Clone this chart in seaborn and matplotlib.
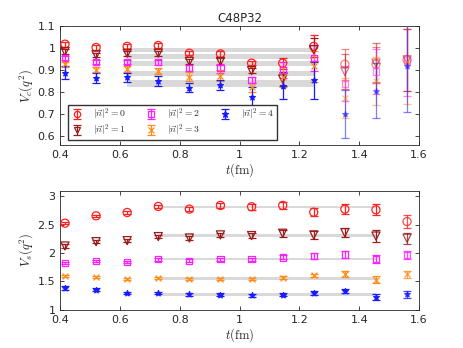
import numpy as np
import pandas as pd
import matplotlib
matplotlib.use("Agg")
import matplotlib.pyplot as plt
import seaborn as sns

# time slices (fm)
t = [0.416, 0.520, 0.624, 0.728, 0.832, 0.936, 1.040, 1.144, 1.248, 1.352, 1.456, 1.560]
labels = ["$|\\vec{n}|^2=0$", "$|\\vec{n}|^2=1$", "$|\\vec{n}|^2=2$", "$|\\vec{n}|^2=3$", "$|\\vec{n}|^2=4$"]

# V_c(q^2) for each |n|^2
vc0 = [1.018, 1.003, 1.008, 1.012, 0.977, 0.974, 0.932, 0.932, 1.008, 0.927, 0.927, 0.947]
vc1 = [0.985, 0.970, 0.977, 0.977, 0.940, 0.940, 0.898, 0.860, 0.993, 0.894, 0.932, 0.947]
vc2 = [0.955, 0.936, 0.938, 0.936, 0.910, 0.909, 0.856, 0.900, 0.955, 0.838, 0.894, 0.944]
vc3 = [0.927, 0.902, 0.906, 0.897, 0.870, 0.874, 0.823, 0.868, 0.917, 0.773, 0.852, 0.935]
vc4 = [0.889, 0.864, 0.867, 0.852, 0.821, 0.833, 0.780, 0.829, 0.856, 0.701, 0.806, 0.920]
vc0_err = [0.012, 0.010, 0.010, 0.012, 0.010, 0.015, 0.008, 0.025, 0.050, 0.070, 0.080, 0.140]
vc1_err = [0.010, 0.010, 0.012, 0.012, 0.012, 0.015, 0.010, 0.030, 0.055, 0.080, 0.090, 0.140]
vc2_err = [0.010, 0.010, 0.010, 0.012, 0.012, 0.020, 0.012, 0.035, 0.060, 0.080, 0.100, 0.160]
vc3_err = [0.012, 0.012, 0.015, 0.015, 0.020, 0.025, 0.020, 0.045, 0.070, 0.090, 0.110, 0.190]
vc4_err = [0.030, 0.022, 0.022, 0.022, 0.020, 0.023, 0.045, 0.060, 0.085, 0.110, 0.125, 0.210]
# fit bands for V_c (low, high), fit range 0.624 - 1.248
vc_band = [(0.981, 1.000), (0.952, 0.972), (0.920, 0.940), (0.875, 0.897), (0.822, 0.855)]

# V_s(q^2) for each |n|^2
vs0 = [2.527, 2.657, 2.716, 2.822, 2.775, 2.840, 2.817, 2.840, 2.720, 2.775, 2.763, 2.556]
vs1 = [2.124, 2.200, 2.219, 2.290, 2.266, 2.320, 2.308, 2.350, 2.320, 2.360, 2.300, 2.260]
vs2 = [1.828, 1.864, 1.840, 1.888, 1.864, 1.888, 1.888, 1.923, 1.947, 1.976, 1.888, 1.964]
vs3 = [1.592, 1.580, 1.544, 1.562, 1.544, 1.544, 1.538, 1.568, 1.604, 1.627, 1.533, 1.627]
vs4 = [1.385, 1.355, 1.296, 1.296, 1.272, 1.266, 1.254, 1.266, 1.296, 1.331, 1.225, 1.272]
vs0_err = [0.020, 0.020, 0.025, 0.030, 0.035, 0.040, 0.050, 0.060, 0.070, 0.090, 0.100, 0.120]
vs1_err = [0.030, 0.030, 0.030, 0.030, 0.035, 0.040, 0.050, 0.060, 0.070, 0.080, 0.100, 0.100]
vs2_err = [0.020, 0.020, 0.020, 0.020, 0.025, 0.025, 0.030, 0.035, 0.050, 0.060, 0.070, 0.070]
vs3_err = [0.015, 0.015, 0.015, 0.015, 0.015, 0.020, 0.020, 0.025, 0.035, 0.050, 0.060, 0.060]
vs4_err = [0.030, 0.030, 0.025, 0.025, 0.025, 0.025, 0.030, 0.030, 0.035, 0.040, 0.060, 0.060]
# fit values for V_s, fit range 0.728 - 1.456
vs_fit = [2.81, 2.31, 1.89, 1.55, 1.27]

colors = ["#ff2020", "#9a1c1c", "#ff20ff", "#ff8c1a", "#1a1aff"]
markers = ["o", "v", "s", "x", "*"]
msize = [34, 34, 20, 18, 18]

sns.set_style("ticks")
plt.rcParams["font.family"] = ["DejaVu Sans"]
plt.rcParams["mathtext.fontset"] = "cm"
plt.rcParams["font.size"] = 8

fig = plt.figure(figsize=(4.63, 3.48), dpi=100)
ax1 = fig.add_axes([0.13, 0.583, 0.775, 0.342])
ax2 = fig.add_axes([0.13, 0.11, 0.775, 0.342])


def draw_panel(ax, series, errs, alpha_from, faded_alpha):
    handles = []
    for i, (y, e) in enumerate(zip(series, errs)):
        df = pd.DataFrame({"t": t, "v": y, "e": e})
        df["faded"] = df["t"] >= alpha_from
        for faded, sub in df.groupby("faded"):
            a = faded_alpha if faded else 1.0
            eb = ax.errorbar(sub["t"], sub["v"], yerr=sub["e"], fmt="none",
                             ecolor=colors[i], elinewidth=0.9, capsize=2.8,
                             capthick=0.9, alpha=a, zorder=3)
            filled = markers[i] in ("x", "*")
            sns.scatterplot(data=sub, x="t", y="v", ax=ax, marker=markers[i],
                            s=msize[i], legend=False, alpha=a, zorder=4,
                            facecolor=colors[i] if filled else "none",
                            edgecolor=colors[i], color=colors[i], linewidth=0.9)
            if not faded:
                handles.append(eb)
    return handles


series_c = [vc0, vc1, vc2, vc3, vc4]
errs_c = [vc0_err, vc1_err, vc2_err, vc3_err, vc4_err]
for lo, hi in vc_band:
    ax1.fill_between([0.624, 1.248], [lo, lo], [hi, hi], color="#d9d9d9", lw=0, zorder=1)
h = draw_panel(ax1, series_c, errs_c, 1.3, 0.55)

series_s = [vs0, vs1, vs2, vs3, vs4]
errs_s = [vs0_err, vs1_err, vs2_err, vs3_err, vs4_err]
for v in vs_fit:
    ax2.fill_between([0.728, 1.456], [v - 0.02, v - 0.02], [v + 0.02, v + 0.02],
                     color="#d9d9d9", lw=0, zorder=1)
draw_panel(ax2, series_s, errs_s, 1.5, 0.8)

# legend with errorbar glyph + marker
leg_handles = []
for i in range(5):
    filled = markers[i] in ("x", "*")
    mk = plt.Line2D([], [], ls="none", marker=markers[i], color=colors[i],
                    mfc=colors[i] if filled else "none", mec=colors[i], ms=4.5, mew=0.9)
    leg_handles.append((h[i], mk))
ax1.legend(leg_handles, labels, ncol=3, loc="lower left", bbox_to_anchor=(0.015, 0.015),
           fontsize=7, frameon=True, fancybox=False, edgecolor="#333333",
           handlelength=1.3, columnspacing=1.9, labelspacing=0.0,
           borderpad=0.25, handletextpad=1.0, framealpha=1, borderaxespad=0.3)

for ax in (ax1, ax2):
    ax.set_xlim(0.4, 1.6)
    ax.set_xticks([0.4, 0.6, 0.8, 1.0, 1.2, 1.4, 1.6])
    ax.set_xticklabels(["0.4", "0.6", "0.8", "1", "1.2", "1.4", "1.6"])
    ax.tick_params(direction="in", top=True, right=True, length=3, width=0.6,
                   colors="#262626", labelsize=8)
    for s in ax.spines.values():
        s.set_visible(True)
        s.set_linewidth(0.6)
        s.set_color("#262626")
    ax.set_xlabel("$t(\\mathrm{fm})$", fontsize=9, labelpad=1)

ax1.set_ylim(0.56, 1.1)
ax1.set_yticks([0.6, 0.7, 0.8, 0.9, 1.0, 1.1])
ax1.set_yticklabels(["0.6", "0.7", "0.8", "0.9", "1", "1.1"])
ax1.set_ylabel("$V_c(q^2)$", fontsize=9, labelpad=2)
ax1.set_title("C48P32", fontsize=8.5, pad=3)

ax2.set_ylim(1.0, 3.1)
ax2.set_yticks([1, 1.5, 2, 2.5, 3])
ax2.set_yticklabels(["1", "1.5", "2", "2.5", "3"])
ax2.set_ylabel("$V_s(q^2)$", fontsize=9, labelpad=2)

fig.savefig("out.png", dpi=100)
